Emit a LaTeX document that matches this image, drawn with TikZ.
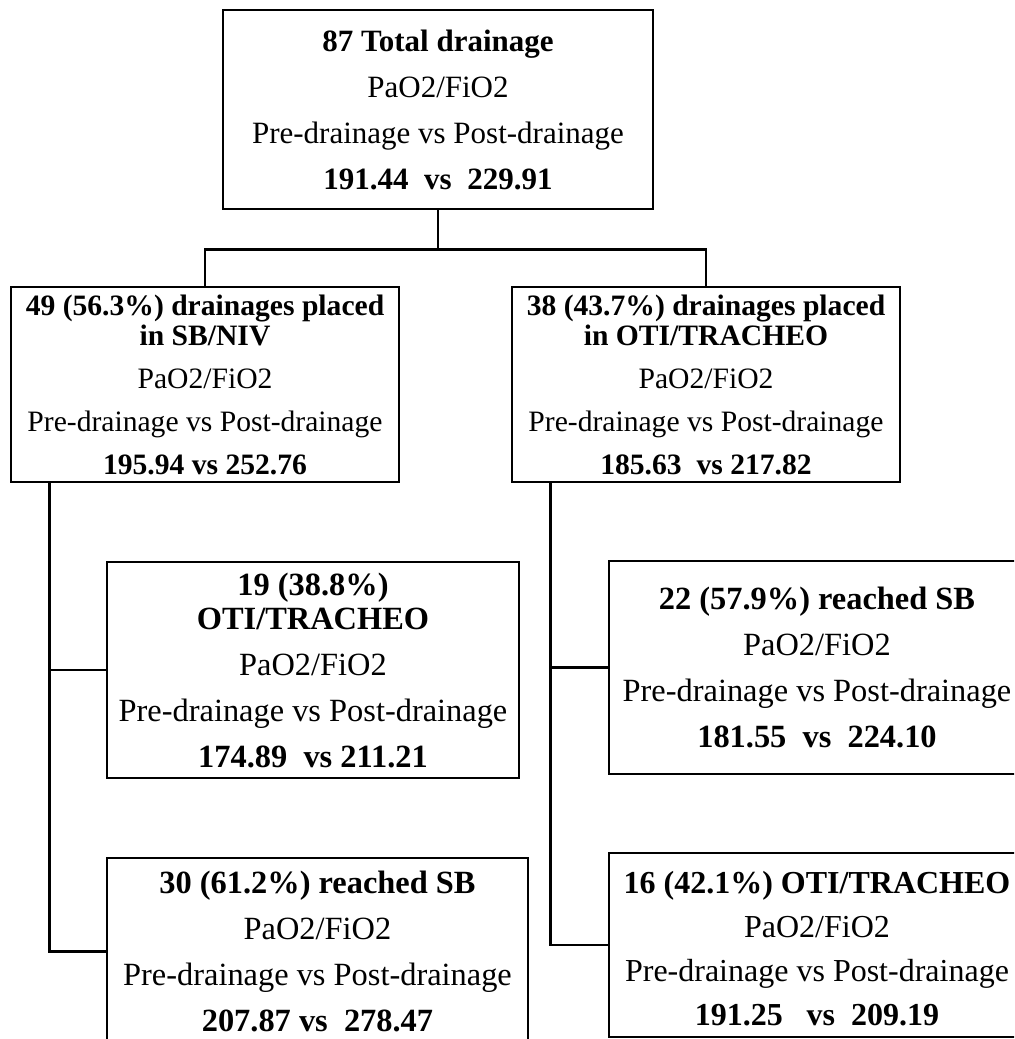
\documentclass[tikz,border=0pt]{standalone}
\usepackage{fontspec}
\setmainfont{Liberation Serif}
\usepackage{tikz}

\tikzset{
    box/.style={draw, line width=1.4pt, inner sep=0pt, align=center},
    topfont/.style={font=\fontsize{15.5}{23}\selectfont},
    midfont/.style={font=\fontsize{14.8}{21.5}\selectfont},
    lowfont/.style={font=\fontsize{16.2}{23}\selectfont},
    link/.style={line width=1.4pt}
}

\begin{document}
\begin{tikzpicture}[x=0.5pt, y=-0.5pt]
        \path[use as bounding box, clip] (0,0) rectangle (1014,1039);

        \node[box, topfont, minimum width=215pt, minimum height=99.5pt] (Total) at (438,109.5)
            {\textbf{87 Total drainage}\\PaO2/FiO2\\Pre-drainage vs Post-drainage\\\textbf{191.44\ \ vs\ \ 229.91}};
        \node[box, midfont, minimum width=194pt, minimum height=97.5pt] (SB-NIV) at (205,384.5)
            {\textbf{49 (56.3\%) drainages placed}\\[-6.5pt]\textbf{in SB/NIV}\\PaO2/FiO2\\Pre-drainage vs Post-drainage\\\textbf{195.94 vs 252.76}};
        \node[box, midfont, minimum width=194pt, minimum height=97.5pt] (OTI-TRACHEO) at (706,384.5)
            {\textbf{38 (43.7\%) drainages placed}\\[-6.5pt]\textbf{in OTI/TRACHEO}\\PaO2/FiO2\\Pre-drainage vs Post-drainage\\\textbf{185.63\ \ vs 217.82}};
        \node[box, lowfont, minimum width=206pt, minimum height=108pt] (SB-to-OTI) at (313,670)
            {\textbf{19 (38.8\%)}\\[-6pt]\textbf{OTI/TRACHEO}\\PaO2/FiO2\\Pre-drainage vs Post-drainage\\\textbf{174.89\ \ vs 211.21}};
        \node[box, lowfont, minimum width=210.5pt, minimum height=93.5pt] (SB-to-SB) at (317.5,951.5)
            {\textbf{30 (61.2\%) reached SB}\\PaO2/FiO2\\Pre-drainage vs Post-drainage\\\textbf{207.87 vs\ \ 278.47}};
        \node[box, lowfont, minimum width=208pt, minimum height=106.5pt] (OTI-to-SB) at (817,667.5)
            {\textbf{22 (57.9\%) reached SB}\\PaO2/FiO2\\Pre-drainage vs Post-drainage\\\textbf{181.55\ \ vs\ \ 224.10}};
        \node[box, font=\fontsize{16}{22}\selectfont, minimum width=208pt, minimum height=92pt] (OTI-to-OTI) at (817,945)
            {\rule{0pt}{15pt}\textbf{16 (42.1\%) OTI/TRACHEO}\\PaO2/FiO2\\Pre-drainage vs Post-drainage\\\textbf{191.25\ \ \ vs\ \ 209.19}};

        \coordinate (split) at ([yshift=-19.5pt]Total.south);
        \draw[link] (Total.south) -- (split) -| (SB-NIV.north);
        \draw[link] (split) -| (OTI-TRACHEO.north);

        \coordinate (left-trunk) at ([xshift=20pt]SB-NIV.south west);
        \draw[link] (left-trunk) |- (SB-to-OTI.west);
        \draw[link] (left-trunk) |- (SB-to-SB.west);
        \coordinate (right-trunk) at ([xshift=20pt]OTI-TRACHEO.south west);
        \draw[link] (right-trunk) |- (OTI-to-SB.west);
        \draw[link] (right-trunk) |- (OTI-to-OTI.west);
    \end{tikzpicture}
\end{document}
